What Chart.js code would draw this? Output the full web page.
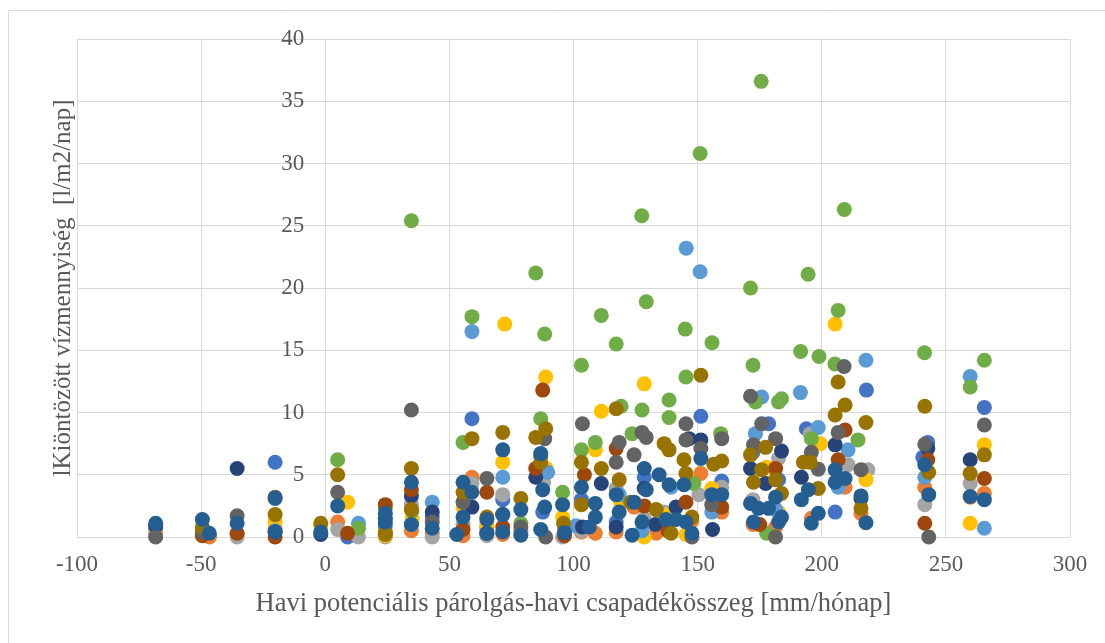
<!DOCTYPE html>
<html>
<head>
<meta charset="utf-8">
<script src="https://cdn.jsdelivr.net/npm/chart.js@4.4.1/dist/chart.umd.min.js"></script>
<style>
  html, body { margin: 0; padding: 0; background: #ffffff; }
  #wrap { width: 1105px; height: 643px; }
</style>
</head>
<body>
<div id="wrap"><canvas id="c" width="1105" height="643"></canvas></div>
<script>
// Axis texts and tick settings
const xTitle = 'Havi potenciális párolgás-havi csapadékösszeg [mm/hónap]';
const yTitle = 'lKiöntözött vízmennyiség  [l/m2/nap]';
const xTicks = [-100, -50, 0, 50, 100, 150, 200, 250, 300];
const yTicks = [0, 5, 10, 15, 20, 25, 30, 35, 40];

// Series colours (office palette)
const seriesColors = ['#4472C4', '#ED7D31', '#A5A5A5', '#FFC000', '#5B9BD5', '#70AD47',
                      '#264478', '#9E480E', '#636363', '#997300', '#255E91'];

// [x, y] points of each series
const series1 = [[-68.3,0.7],[-46.7,0.1],[-20.2,6.0],[9.0,0.0],[24.2,0.9],[43.1,1.6],[59.1,9.5],[65.1,0.5],[71.5,3.0],[87.6,2.0],[103.2,3.0],[117.2,1.2],[128.5,4.8],[136.5,1.0],[151.3,9.7],[159.7,4.5],[172.3,6.8],[178.6,9.1],[182.6,4.6],[193.8,8.7],[205.4,2.0],[218.0,11.8],[240.7,6.4],[242.7,7.6],[265.5,10.4]];
const series2 = [[-68.3,0.3],[-49.5,0.2],[-46.7,0.0],[-35.5,0.2],[-20.2,0.7],[5.0,1.2],[24.2,0.2],[34.7,0.5],[43.1,0.3],[55.5,0.1],[59.1,4.8],[65.1,0.8],[71.5,0.2],[78.8,0.5],[96.4,0.6],[103.2,0.4],[108.8,0.3],[117.2,0.4],[124.4,2.4],[133.3,0.3],[147.7,1.3],[151.3,5.1],[159.7,2.0],[172.3,1.0],[181.4,0.8],[195.8,1.5],[209.4,4.0],[215.8,1.9],[241.5,4.0],[259.8,3.2],[265.5,3.5]];
const series3 = [[-68.3,0.1],[-49.5,0.2],[-35.5,0.0],[5.0,0.6],[13.4,0.0],[24.2,0.0],[34.7,2.6],[43.1,0.0],[55.5,1.0],[59.1,4.3],[65.1,0.1],[71.5,3.4],[78.8,0.3],[88.0,4.4],[95.6,0.0],[103.2,0.5],[117.2,3.9],[128.5,1.5],[136.5,2.0],[150.5,3.4],[159.7,4.0],[172.3,3.0],[182.6,6.3],[195.4,8.3],[210.6,5.8],[218.6,5.4],[241.5,2.6],[259.8,4.3]];
const series4 = [[-49.5,0.6],[-20.2,1.2],[-1.8,0.9],[9.0,2.8],[24.2,0.1],[35.0,1.4],[55.5,2.4],[65.1,1.0],[71.5,6.0],[72.3,17.1],[88.8,12.85],[89.0,5.5],[95.6,1.6],[108.8,7.0],[111.2,10.1],[119.0,2.8],[128.5,12.3],[128.5,0.0],[138.5,1.8],[145.3,0.2],[155.7,3.9],[177.8,5.6],[182.6,2.0],[199.4,7.5],[205.4,17.1],[217.8,4.6],[259.8,1.1],[265.5,7.4]];
const series5 = [[-20.2,0.5],[13.4,1.1],[34.7,1.0],[43.1,2.8],[59.1,16.5],[71.5,4.8],[89.6,5.2],[101.0,0.9],[118.4,3.4],[127.6,0.5],[139.3,4.0],[145.4,23.2],[151.0,21.3],[155.7,2.0],[173.3,8.3],[175.8,11.25],[181.4,2.2],[191.4,11.6],[198.6,8.8],[206.6,4.0],[210.6,7.0],[217.8,14.2],[241.5,4.8],[259.8,12.9],[265.5,0.7]];
const series6 = [[5.0,6.2],[13.4,0.7],[24.2,2.3],[34.7,25.4],[34.9,2.1],[55.5,7.6],[59.1,17.7],[78.8,1.1],[84.8,21.2],[86.8,9.5],[88.4,16.3],[95.6,3.6],[103.2,13.8],[103.2,7.0],[108.8,7.6],[111.2,17.8],[117.2,15.5],[119.2,10.5],[123.6,8.3],[127.5,25.8],[127.6,10.2],[129.3,18.9],[138.5,11.0],[138.5,9.6],[145.0,16.7],[145.3,12.85],[148.5,4.3],[151.0,30.8],[155.8,15.6],[159.3,8.3],[171.3,20.0],[172.3,13.8],[173.3,10.85],[175.6,36.6],[177.8,0.3],[182.6,10.85],[183.8,11.1],[191.5,14.9],[194.5,21.1],[195.8,7.9],[198.9,14.5],[205.3,13.9],[206.6,18.2],[209.1,26.3],[214.6,7.8],[241.4,14.8],[259.8,12.05],[265.5,14.2]];
const series7 = [[-68.3,0.9],[-35.5,5.5],[-20.2,0.4],[-1.8,0.2],[24.2,1.5],[34.7,3.3],[43.1,2.0],[59.1,2.4],[65.1,0.3],[71.5,1.8],[84.8,4.8],[103.6,0.8],[111.2,4.3],[117.2,0.8],[128.5,3.9],[133.0,1.0],[141.3,2.4],[146.5,7.9],[151.3,7.8],[156.0,0.6],[171.3,5.5],[177.4,4.3],[183.8,6.9],[191.8,4.8],[205.4,7.4],[215.8,3.1],[242.7,7.1],[259.8,6.2]];
const series8 = [[-49.5,0.1],[-35.5,0.3],[-20.2,0.0],[9.0,0.3],[24.2,2.6],[34.7,3.8],[55.5,0.6],[65.1,3.6],[71.5,0.8],[84.8,5.5],[87.6,11.8],[96.4,0.1],[104.4,5.0],[117.2,7.1],[128.5,2.5],[138.0,0.5],[145.3,2.8],[159.7,2.4],[175.0,1.0],[181.4,5.5],[206.6,6.2],[209.4,8.6],[241.5,1.1],[242.7,6.2],[265.5,4.7]];
const series9 = [[-68.3,0.0],[-49.5,0.4],[-35.5,1.7],[-20.2,3.2],[5.0,3.6],[34.7,10.2],[43.1,1.2],[55.5,2.8],[65.1,4.7],[78.8,0.8],[86.8,6.5],[88.4,7.9],[88.8,0.0],[103.6,9.1],[117.2,6.0],[118.4,7.6],[124.4,6.6],[127.6,8.4],[129.3,8.0],[145.3,9.1],[145.3,7.8],[147.7,0.0],[151.3,7.1],[155.7,2.6],[159.7,7.9],[171.3,11.3],[172.5,7.4],[175.8,9.1],[181.4,7.9],[181.4,0.0],[195.8,6.8],[198.6,5.45],[206.6,8.4],[209.0,13.7],[215.8,5.4],[241.5,7.45],[243.1,0.0],[265.5,9.0]];
const series10 = [[-49.5,0.8],[-20.2,1.8],[-1.8,1.1],[5.0,5.0],[24.2,0.4],[24.2,0.2],[34.7,5.5],[34.7,2.2],[55.5,3.6],[59.1,7.9],[65.1,1.6],[71.5,8.4],[78.8,3.1],[84.8,8.0],[86.8,6.0],[88.8,8.7],[96.0,1.1],[103.2,6.0],[103.2,2.6],[111.2,5.5],[117.2,10.3],[118.4,4.6],[123.0,2.8],[133.3,2.2],[136.5,7.5],[138.5,7.0],[139.3,0.3],[144.5,6.2],[145.3,5.1],[147.7,1.6],[151.3,13.0],[156.5,5.85],[159.7,6.1],[171.3,6.6],[172.5,4.4],[175.8,5.4],[177.4,7.2],[181.4,4.6],[183.8,3.5],[192.6,6.0],[195.4,6.0],[198.6,3.9],[205.4,9.8],[206.6,12.45],[209.4,10.6],[215.8,2.3],[217.8,9.2],[241.5,10.5],[243.1,5.2],[259.8,5.1],[265.5,6.6]];
const series11 = [[-68.3,1.1],[-49.5,1.4],[-46.7,0.3],[-35.5,1.1],[-20.2,3.1],[-20.2,0.4],[-1.8,0.4],[5.0,2.5],[24.2,1.9],[24.2,1.2],[34.7,4.4],[34.7,1.0],[43.1,0.7],[53.0,0.2],[55.5,4.4],[55.5,1.6],[59.1,3.6],[65.1,1.4],[65.1,0.3],[71.5,7.0],[71.5,1.8],[71.5,0.4],[78.8,2.2],[78.8,0.15],[86.8,6.7],[86.8,0.6],[87.6,3.8],[88.4,2.4],[95.6,2.6],[96.4,0.35],[103.2,4.0],[106.4,0.8],[108.8,2.7],[108.8,1.6],[117.2,3.4],[118.4,2.0],[123.6,0.15],[124.4,2.8],[127.6,1.2],[128.5,5.5],[129.3,3.8],[134.5,5.0],[137.3,1.4],[138.5,4.2],[141.3,1.4],[144.5,4.2],[145.3,1.2],[147.7,0.3],[151.3,6.3],[155.7,3.4],[159.7,3.4],[171.3,2.7],[172.5,1.2],[174.5,2.3],[178.6,2.3],[181.4,3.2],[182.6,1.2],[183.8,1.6],[191.8,3.0],[194.6,3.8],[195.8,1.1],[198.6,1.9],[205.4,5.4],[205.4,4.4],[209.4,4.7],[215.8,3.3],[217.8,1.15],[241.5,5.8],[243.1,3.4],[259.8,3.25],[265.5,3.0]];

const allSeries = [series1, series2, series3, series4, series5, series6,
                   series7, series8, series9, series10, series11];

const textColor = '#595959';
const gridColor = '#D9D9D9';
const serif = 'Liberation Serif, Times New Roman, serif';

// later series are painted on top of earlier ones
const datasets = allSeries.map((pts, i) => ({
  label: 'Sorozat' + (i + 1),
  data: pts.map(p => ({ x: p[0], y: p[1] })),
  backgroundColor: seriesColors[i],
  borderColor: seriesColors[i],
  borderWidth: 0,
  pointRadius: 7.5,
  pointHoverRadius: 7.5,
  order: allSeries.length - i,
  clip: false
}));

// white page, light frame, value labels beside the crossing axis, rotated axis title
const framePlugin = {
  id: 'frame',
  beforeDraw(chart) {
    const c = chart.ctx;
    c.save();
    c.fillStyle = '#ffffff';
    c.fillRect(0, 0, chart.width, chart.height);
    c.strokeStyle = gridColor;
    c.lineWidth = 1;
    c.beginPath();
    c.moveTo(8.5, chart.height);
    c.lineTo(8.5, 10.5);
    c.lineTo(chart.width, 10.5);
    c.stroke();
    c.restore();
  },
  beforeDatasetsDraw(chart) {
    const c = chart.ctx;
    const xs = chart.scales.x, ys = chart.scales.y;
    const axisX = xs.getPixelForValue(0);
    c.save();
    c.fillStyle = textColor;
    c.font = '23px ' + serif;
    c.textAlign = 'right';
    c.textBaseline = 'middle';
    yTicks.forEach(v => c.fillText(String(v), axisX - 21, ys.getPixelForValue(v)));
    c.restore();
  },
  afterDraw(chart) {
    const c = chart.ctx;
    const a = chart.chartArea;
    c.save();
    c.translate(70, (a.top + a.bottom) / 2);
    c.rotate(-Math.PI / 2);
    c.fillStyle = textColor;
    c.font = '25px ' + serif;
    c.textAlign = 'center';
    c.textBaseline = 'alphabetic';
    c.fillText(yTitle, 0, 0);
    c.restore();
  }
};

new Chart(document.getElementById('c'), {
  type: 'scatter',
  data: { datasets },
  plugins: [framePlugin],
  options: {
    responsive: false,
    animation: false,
    events: [],
    layout: { padding: { left: 77, right: 35, top: 39, bottom: 0 } },
    plugins: { legend: { display: false }, tooltip: { enabled: false } },
    scales: {
      x: {
        type: 'linear',
        position: 'bottom',
        min: xTicks[0],
        max: xTicks[xTicks.length - 1],
        afterBuildTicks: s => { s.ticks = xTicks.map(v => ({ value: v })); },
        afterFit: s => { s.height = 106; },
        ticks: { color: textColor, font: { family: serif, size: 23 }, padding: 14, maxRotation: 0 },
        grid: { color: gridColor, lineWidth: 1, drawTicks: false },
        border: { color: gridColor, width: 1 },
        title: { display: true, text: xTitle, color: textColor,
                 font: { family: serif, size: 26.5 }, padding: { top: 0, bottom: 23 } }
      },
      y: {
        type: 'linear',
        position: { x: 0 },
        min: yTicks[0],
        max: yTicks[yTicks.length - 1],
        afterBuildTicks: s => { s.ticks = yTicks.map(v => ({ value: v })); },
        ticks: { display: false },
        grid: { color: gridColor, lineWidth: 1, drawTicks: false },
        border: { color: gridColor, width: 1 }
      }
    }
  }
});
</script>
</body>
</html>
